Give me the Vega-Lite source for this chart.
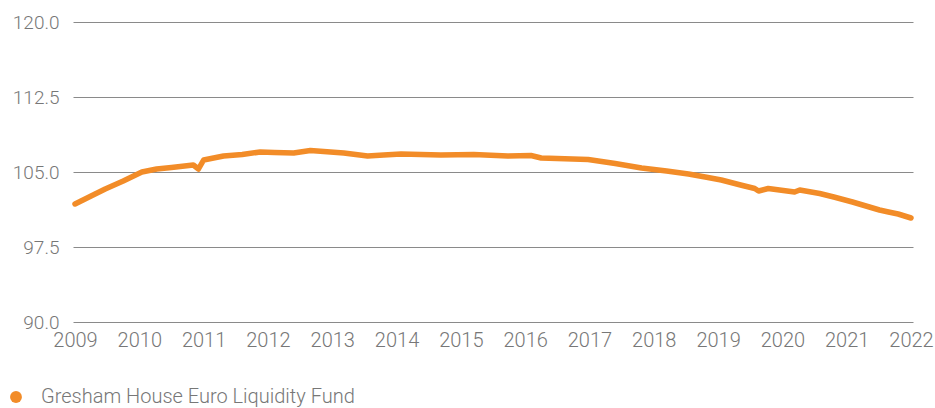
{
  "$schema": "https://vega.github.io/schema/vega-lite/v6.json",
  "width": 840,
  "height": 300,
  "autosize": {"type": "none"},
  "padding": {"left": 73, "top": 22, "right": 22, "bottom": 86},
  "background": "white",
  "config": {
    "view": {"stroke": null},
    "font": "Roboto"
  },
  "data": {
    "values": [
      {"year": 2009.0, "value": 101.8, "series": "Gresham House Euro Liquidity Fund"},
      {"year": 2009.25, "value": 102.6, "series": "Gresham House Euro Liquidity Fund"},
      {"year": 2009.47, "value": 103.3, "series": "Gresham House Euro Liquidity Fund"},
      {"year": 2009.75, "value": 104.1, "series": "Gresham House Euro Liquidity Fund"},
      {"year": 2010.04, "value": 105.0, "series": "Gresham House Euro Liquidity Fund"},
      {"year": 2010.27, "value": 105.3, "series": "Gresham House Euro Liquidity Fund"},
      {"year": 2010.5, "value": 105.45, "series": "Gresham House Euro Liquidity Fund"},
      {"year": 2010.84, "value": 105.7, "series": "Gresham House Euro Liquidity Fund"},
      {"year": 2010.92, "value": 105.3, "series": "Gresham House Euro Liquidity Fund"},
      {"year": 2011.0, "value": 106.2, "series": "Gresham House Euro Liquidity Fund"},
      {"year": 2011.31, "value": 106.6, "series": "Gresham House Euro Liquidity Fund"},
      {"year": 2011.6, "value": 106.75, "series": "Gresham House Euro Liquidity Fund"},
      {"year": 2011.88, "value": 107.0, "series": "Gresham House Euro Liquidity Fund"},
      {"year": 2012.1, "value": 106.95, "series": "Gresham House Euro Liquidity Fund"},
      {"year": 2012.4, "value": 106.9, "series": "Gresham House Euro Liquidity Fund"},
      {"year": 2012.66, "value": 107.15, "series": "Gresham House Euro Liquidity Fund"},
      {"year": 2013.18, "value": 106.9, "series": "Gresham House Euro Liquidity Fund"},
      {"year": 2013.55, "value": 106.6, "series": "Gresham House Euro Liquidity Fund"},
      {"year": 2013.8, "value": 106.7, "series": "Gresham House Euro Liquidity Fund"},
      {"year": 2014.07, "value": 106.8, "series": "Gresham House Euro Liquidity Fund"},
      {"year": 2014.69, "value": 106.7, "series": "Gresham House Euro Liquidity Fund"},
      {"year": 2015.2, "value": 106.75, "series": "Gresham House Euro Liquidity Fund"},
      {"year": 2015.73, "value": 106.6, "series": "Gresham House Euro Liquidity Fund"},
      {"year": 2016.09, "value": 106.65, "series": "Gresham House Euro Liquidity Fund"},
      {"year": 2016.25, "value": 106.4, "series": "Gresham House Euro Liquidity Fund"},
      {"year": 2016.98, "value": 106.25, "series": "Gresham House Euro Liquidity Fund"},
      {"year": 2017.4, "value": 105.85, "series": "Gresham House Euro Liquidity Fund"},
      {"year": 2017.81, "value": 105.4, "series": "Gresham House Euro Liquidity Fund"},
      {"year": 2018.2, "value": 105.1, "series": "Gresham House Euro Liquidity Fund"},
      {"year": 2018.54, "value": 104.8, "series": "Gresham House Euro Liquidity Fund"},
      {"year": 2018.8, "value": 104.5, "series": "Gresham House Euro Liquidity Fund"},
      {"year": 2019.05, "value": 104.2, "series": "Gresham House Euro Liquidity Fund"},
      {"year": 2019.35, "value": 103.7, "series": "Gresham House Euro Liquidity Fund"},
      {"year": 2019.57, "value": 103.35, "series": "Gresham House Euro Liquidity Fund"},
      {"year": 2019.63, "value": 103.1, "series": "Gresham House Euro Liquidity Fund"},
      {"year": 2019.78, "value": 103.35, "series": "Gresham House Euro Liquidity Fund"},
      {"year": 2020.19, "value": 103.0, "series": "Gresham House Euro Liquidity Fund"},
      {"year": 2020.27, "value": 103.2, "series": "Gresham House Euro Liquidity Fund"},
      {"year": 2020.58, "value": 102.85, "series": "Gresham House Euro Liquidity Fund"},
      {"year": 2020.8, "value": 102.5, "series": "Gresham House Euro Liquidity Fund"},
      {"year": 2021.09, "value": 102.0, "series": "Gresham House Euro Liquidity Fund"},
      {"year": 2021.51, "value": 101.2, "series": "Gresham House Euro Liquidity Fund"},
      {"year": 2021.65, "value": 101.0, "series": "Gresham House Euro Liquidity Fund"},
      {"year": 2021.8, "value": 100.8, "series": "Gresham House Euro Liquidity Fund"},
      {"year": 2022.0, "value": 100.4, "series": "Gresham House Euro Liquidity Fund"}
    ]
  },
  "mark": {"type": "line", "strokeWidth": 5.5, "strokeCap": "round", "strokeJoin": "round"},
  "encoding": {
    "x": {
      "field": "year",
      "type": "quantitative",
      "scale": {"domain": [2009, 2022], "nice": false, "zero": false, "padding": 2},
      "axis": {
        "title": null,
        "values": [2009, 2010, 2011, 2012, 2013, 2014, 2015, 2016, 2017, 2018, 2019, 2020, 2021, 2022],
        "format": "d",
        "grid": false,
        "ticks": false,
        "domain": false,
        "labelFont": "Roboto",
        "labelFontWeight": 300,
        "labelFontSize": 20,
        "labelColor": "#777777",
        "labelPadding": 8,
        "labelFlush": false,
        "labelOverlap": false
      }
    },
    "y": {
      "field": "value",
      "type": "quantitative",
      "scale": {"domain": [90, 120], "nice": false, "zero": false},
      "axis": {
        "title": null,
        "values": [90, 97.5, 105, 112.5, 120],
        "format": ".1f",
        "grid": true,
        "gridColor": "#8a8a8a",
        "gridWidth": 1,
        "ticks": false,
        "domain": false,
        "labelFont": "Roboto",
        "labelFontWeight": 300,
        "labelFontSize": 19,
        "labelColor": "#777777",
        "labelPadding": 14
      }
    },
    "color": {
      "field": "series",
      "type": "nominal",
      "scale": {"domain": ["Gresham House Euro Liquidity Fund"], "range": ["#F28C28"]},
      "legend": {
        "title": null,
        "orient": "none",
        "legendX": -67,
        "legendY": 365,
        "symbolType": "circle",
        "symbolSize": 140,
        "symbolFillColor": "#F28C28",
        "symbolStrokeColor": "#F28C28",
        "symbolStrokeWidth": 0,
        "labelFont": "Roboto",
        "labelFontWeight": 300,
        "labelFontSize": 20,
        "labelColor": "#777777",
        "labelOffset": 15,
        "labelLimit": 0
      }
    }
  }
}
